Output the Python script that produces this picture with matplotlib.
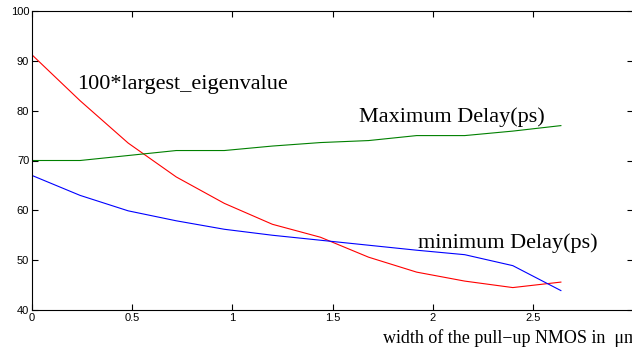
import matplotlib
matplotlib.use("Agg")
import matplotlib.pyplot as plt

# 데이터
width_um = [0, 0.24, 0.48, 0.72, 0.96, 1.2, 1.44, 1.68, 1.92, 2.16, 2.4, 2.64]
eigen100 = [91.2, 82.0, 73.5, 66.7, 61.4, 57.2, 54.6, 50.6, 47.6, 45.8, 44.5, 45.6]
max_delay = [70.0, 70.0, 71.0, 72.0, 72.0, 72.9, 73.6, 74.0, 75.0, 75.0, 75.9, 77.0]
min_delay = [67.0, 63.0, 59.9, 57.9, 56.2, 55.0, 54.0, 53.0, 52.0, 51.1, 48.9, 43.9]

xticks = [0, 0.5, 1, 1.5, 2, 2.5]
xticklabels = ["0", "0.5", "1", "1.5", "2", "2.5"]
yticks = [40, 50, 60, 70, 80, 90, 100]

W, H = 632, 351
fig = plt.figure(figsize=(W / 100, H / 100), dpi=100)
ax = fig.add_axes([32 / W, (H - 310) / H, 601 / W, 299 / H])

ax.plot(width_um, eigen100, color="#ff0000", lw=0.8)
ax.plot(width_um, max_delay, color="#008000", lw=0.8)
ax.plot(width_um, min_delay, color="#0000ff", lw=0.8)

ax.set_xlim(0, 3)
ax.set_ylim(40, 100)
ax.set_xticks(xticks)
ax.set_xticklabels(xticklabels)
ax.set_yticks(yticks)
ax.tick_params(direction="in", length=4, width=0.8, labelsize=8,
               top=True, right=True, pad=2)
for lab in ax.get_xticklabels() + ax.get_yticklabels():
    lab.set_family("Liberation Sans")
for s in ax.spines.values():
    s.set_linewidth(0.8)
ax.spines["right"].set_visible(False)

# 곡선 이름 (그림 안의 글자)
serif = "Liberation Serif"
ax.text(0.225, 85.3, "100*largest_eigenvalue", family=serif, fontsize=16,
        va="center", ha="left")
ax.text(1.63, 78.8, "Maximum Delay(ps)", family=serif, fontsize=16,
        va="center", ha="left")
ax.text(1.925, 53.4, "minimum Delay(ps)", family=serif, fontsize=16,
        va="center", ha="left")
# 원본처럼 오른쪽 끝에서 잘림
fig.text(383 / W, 1 - 338 / H, "width of the pull\u2212up NMOS in  \u03bcm",
         family=serif, fontsize=13, va="center", ha="left")

fig.savefig("out.png", dpi=100)
